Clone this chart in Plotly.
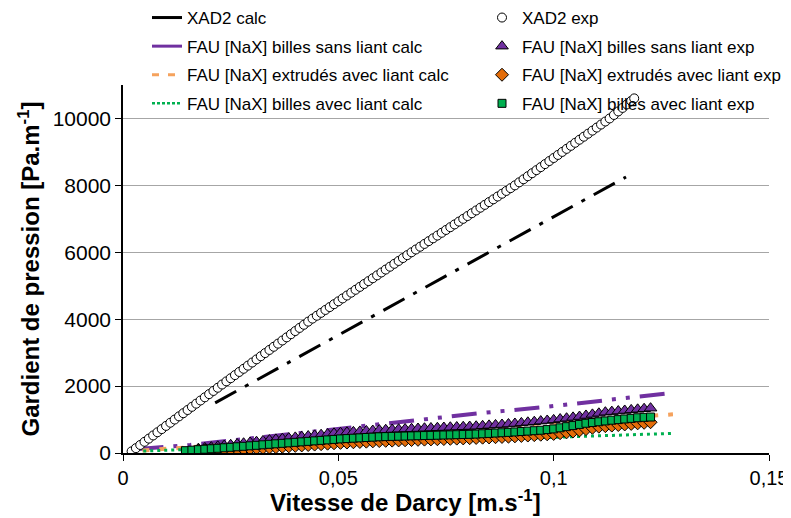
import plotly.graph_objects as go

# ---------------- data ----------------
xad2_exp_x = [0.002, 0.003, 0.004, 0.005, 0.006, 0.007, 0.008, 0.009, 0.010, 0.011,
              0.012, 0.013, 0.014, 0.015, 0.016, 0.017, 0.018, 0.019, 0.020, 0.021,
              0.022, 0.023, 0.024, 0.025, 0.026, 0.027, 0.028, 0.029, 0.030, 0.031,
              0.032, 0.033, 0.034, 0.035, 0.036, 0.037, 0.038, 0.039, 0.040, 0.041,
              0.042, 0.043, 0.044, 0.045, 0.046, 0.047, 0.048, 0.049, 0.050, 0.051,
              0.052, 0.053, 0.054, 0.055, 0.056, 0.057, 0.058, 0.059, 0.060, 0.061,
              0.062, 0.063, 0.064, 0.065, 0.066, 0.067, 0.068, 0.069, 0.070, 0.071,
              0.072, 0.073, 0.074, 0.075, 0.076, 0.077, 0.078, 0.079, 0.080, 0.081,
              0.082, 0.083, 0.084, 0.085, 0.086, 0.087, 0.088, 0.089, 0.090, 0.091,
              0.092, 0.093, 0.094, 0.095, 0.096, 0.097, 0.098, 0.099, 0.100, 0.101,
              0.102, 0.103, 0.104, 0.105, 0.106, 0.107, 0.108, 0.109, 0.110, 0.111,
              0.112, 0.113, 0.114, 0.115, 0.116, 0.117, 0.118, 0.1187]
xad2_exp_y = [50, 145, 240, 335, 430, 525, 620, 715, 810, 905,
              1000, 1095, 1190, 1285, 1380, 1475, 1570, 1665, 1760, 1855,
              1950, 2047, 2141, 2235, 2329, 2423, 2517, 2611, 2705, 2799,
              2893, 2987, 3081, 3175, 3269, 3363, 3457, 3551, 3645, 3739,
              3833, 3927, 4017, 4103, 4190, 4276, 4362, 4448, 4534, 4621,
              4707, 4793, 4879, 4966, 5052, 5138, 5224, 5310, 5397, 5483,
              5569, 5655, 5741, 5828, 5914, 6000, 6083, 6167, 6250, 6333,
              6417, 6500, 6583, 6667, 6750, 6833, 6917, 7000, 7083, 7167,
              7250, 7333, 7417, 7500, 7583, 7667, 7750, 7833, 7917, 8000,
              8091, 8182, 8273, 8364, 8455, 8545, 8636, 8727, 8818, 8909,
              9000, 9091, 9182, 9273, 9364, 9455, 9545, 9636, 9727, 9818,
              9909, 10000, 10105, 10210, 10315, 10420, 10525, 10600]

fau_exp_x = [0.0145, 0.016, 0.0175, 0.019, 0.0205, 0.022, 0.0235, 0.025, 0.0265, 0.028,
             0.0295, 0.031, 0.0325, 0.034, 0.0355, 0.037, 0.0385, 0.040, 0.0415, 0.043,
             0.0445, 0.046, 0.0475, 0.049, 0.0505, 0.052, 0.0535, 0.055, 0.0565, 0.058,
             0.0595, 0.061, 0.0625, 0.064, 0.0655, 0.067, 0.0685, 0.070, 0.0715, 0.073,
             0.0745, 0.076, 0.0775, 0.079, 0.0805, 0.082, 0.0835, 0.085, 0.0865, 0.088,
             0.0895, 0.091, 0.0925, 0.094, 0.0955, 0.097, 0.0985, 0.100, 0.1015, 0.103,
             0.1045, 0.106, 0.1075, 0.109, 0.1105, 0.112, 0.1135, 0.115, 0.1165, 0.118,
             0.1195, 0.121, 0.1225]
fau_sans_exp_y = [None, None, 130, 153, 176, 199, 222, 246, 269, 292,
                  315, 338, 361, 385, 407, 427, 447, 467, 487, 507,
                  527, 547, 567, 587, 605, 618, 632, 645, 659, 672,
                  686, 695, 702, 710, 717, 725, 732, 740, 747, 755,
                  762, 770, 777, 785, 792, 800, 813, 826, 839, 852,
                  866, 882, 900, 918, 936, 954, 972, 990, 1015, 1040,
                  1065, 1090, 1122, 1155, 1187, 1220, 1237, 1254, 1271, 1289,
                  1306, 1323, 1340]
fau_extr_exp_y = [None, None, 70, 76, 82, 88, 94, 100, 111, 121,
                  132, 142, 153, 163, 174, 187, 200, 213, 226, 239,
                  252, 265, 278, 291, 303, 312, 321, 330, 339, 348,
                  357, 364, 370, 376, 382, 388, 394, 400, 406, 412,
                  418, 424, 430, 436, 443, 450, 458, 465, 473, 480,
                  488, 498, 510, 522, 534, 546, 558, 570, 594, 618,
                  642, 676, 715, 754, 786, 803, 820, 836, 853, 870,
                  887, 903, 920]
fau_avec_exp_y = [70, 84, 99, 113, 127, 141, 156, 170, 185, 200,
                  215, 230, 245, 260, 275, 289, 304, 319, 333, 348,
                  363, 377, 392, 406, 421, 431, 442, 452, 463, 473,
                  484, 490, 496, 501, 506, 511, 516, 521, 526, 531,
                  537, 542, 547, 552, 557, 565, 575, 585, 596, 606,
                  616, 629, 642, 654, 667, 680, 700, 720, 753, 787,
                  820, 854, 889, 911, 934, 958, 980, 998, 1017, 1035,
                  1054, 1066, 1075]

xad2_calc_x = [0.0214, 0.04, 0.06, 0.08, 0.1, 0.1168]
xad2_calc_y = [1500, 2816, 4231, 5646, 7061, 8250]
fau_sans_calc_x = [0.0036, 0.0156, 0.04, 0.062, 0.0825, 0.0972, 0.1115, 0.1262]
fau_sans_calc_y = [120, 240, 580, 905, 1185, 1364, 1560, 1780]
fau_extr_calc_x = [0.0045, 0.03, 0.06, 0.09, 0.1277]
fau_extr_calc_y = [75, 299, 562, 825, 1155]
fau_avec_calc_x = [0.0047, 0.03, 0.06, 0.0968, 0.1134, 0.1277]
fau_avec_calc_y = [60, 170, 300, 455, 520, 587]

x_tickvals = [0, 0.05, 0.1, 0.15]
x_ticktext = ["0", "0,05", "0,1", "0,15"]
y_tickvals = [0, 2000, 4000, 6000, 8000, 10000]
y_ticktext = ["0", "2000", "4000", "6000", "8000", "10000"]

x_title = "Vitesse de Darcy [m.s<sup>-1</sup>]"
y_title = "Gardient de pression [Pa.m<sup>-1</sup>]"
names_calc = ["XAD2 calc", "FAU [NaX] billes sans liant calc",
              "FAU [NaX] extrudés avec liant calc", "FAU [NaX] billes avec liant calc"]
names_exp = ["XAD2 exp", "FAU [NaX] billes sans liant exp",
             "FAU [NaX] extrudés avec liant exp", "FAU [NaX] billes avec liant exp"]

PURPLE = "#7030A0"
ORANGE_L = "#F5A25D"
ORANGE_D = "#E36C09"
GREEN = "#00B050"

fig = go.Figure()

# calc lines (drawn below markers)
calc_specs = [
    (xad2_calc_x, xad2_calc_y, "black", 3, "24px,10px,4px,10px"),
    (fau_sans_calc_x, fau_sans_calc_y, PURPLE, 4, "25px,10px,4px,10px,4px,10px"),
    (fau_extr_calc_x, fau_extr_calc_y, ORANGE_L, 4, "7px,10px"),
    (fau_avec_calc_x, fau_avec_calc_y, GREEN, 3, "3px,4px"),
]
for (xs, ys, col, w, dash) in calc_specs:
    fig.add_trace(go.Scatter(x=xs, y=ys, mode="lines", showlegend=False,
                             line=dict(color=col, width=w, dash=dash)))

# exp markers
exp_specs = [
    (xad2_exp_x, xad2_exp_y, "white", "circle", 9),
    (fau_exp_x, fau_sans_exp_y, PURPLE, "triangle-up", 11),
    (fau_exp_x, fau_extr_exp_y, ORANGE_D, "diamond", 10),
    (fau_exp_x, fau_avec_exp_y, GREEN, "square", 8),
]
for (xs, ys, col, sym, sz), nm in zip(exp_specs, names_exp):
    fig.add_trace(go.Scatter(x=xs, y=ys, mode="markers", name=nm, legend="legend2",
                             legendgroup=nm,
                             marker=dict(color=col, symbol=sym, size=sz,
                                         line=dict(color="black", width=1))))

# legend samples for calc lines
leg_specs = [("black", 3, "solid"), (PURPLE, 3, "solid"),
             (ORANGE_L, 3, "7px,9px"), (GREEN, 2.5, "3px,2px")]
for (col, w, dash), nm in zip(leg_specs, names_calc):
    fig.add_trace(go.Scatter(x=[None], y=[None], mode="lines", name=nm,
                             legend="legend", legendgroup=nm,
                             line=dict(color=col, width=w, dash=dash)))

# x-axis title, placed left of centre as in the original
fig.add_annotation(text=x_title, xref="paper", yref="paper", x=0.437, y=0,
                   xanchor="center", yanchor="top", yshift=-31, showarrow=False,
                   font=dict(size=24, weight="bold", family="Liberation Sans",
                             color="black"))

# page body has an 8px margin, so the figure is 8px smaller than the window
LEG_FONT = dict(size=17, family="Liberation Sans", color="black")
fig.update_layout(
    width=783, height=510,
    margin=dict(l=115, r=22, t=77, b=65, autoexpand=False),
    paper_bgcolor="white", plot_bgcolor="white",
    font=dict(family="Liberation Sans", color="black"),
    legend=dict(x=(139 - 115) / 646, y=1.231, xanchor="left", yanchor="top",
                font=LEG_FONT, tracegroupgap=3.5, bgcolor="rgba(0,0,0,0)"),
    legend2=dict(x=(474 - 115) / 646, y=1.231, xanchor="left", yanchor="top",
                 font=LEG_FONT, tracegroupgap=3.5, bgcolor="rgba(0,0,0,0)"),
    xaxis=dict(range=[0, 0.15], tickvals=x_tickvals, ticktext=x_ticktext,
               showgrid=False, zeroline=False, showline=True, linecolor="black",
               linewidth=1.5, ticks="outside", ticklen=6, tickcolor="black",
               tickfont=dict(size=20)),
    yaxis=dict(range=[0, 11000], tickvals=y_tickvals, ticktext=y_ticktext,
               showgrid=True, gridcolor="#A6A6A6", gridwidth=1.2, zeroline=False,
               showline=True, linecolor="black", linewidth=1.5,
               ticks="outside", ticklen=6, tickcolor="black",
               tickfont=dict(size=21),
               title=dict(text=y_title,
                          font=dict(size=24, weight="bold"), standoff=6)),
)

fig.write_html("out.html")
